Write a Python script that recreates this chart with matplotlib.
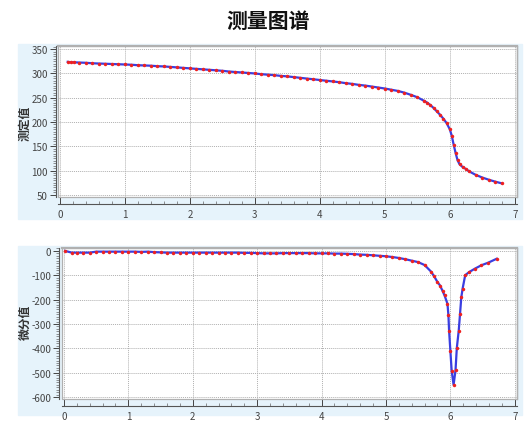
import matplotlib
matplotlib.use("Agg")
import matplotlib.pyplot as plt
from matplotlib.patches import Rectangle
from matplotlib.ticker import MultipleLocator

plt.rcParams["font.family"] = ["Noto Sans CJK SC", "DejaVu Sans"]
plt.rcParams["axes.unicode_minus"] = False

title = "测量图谱"
top_label = "测定值"
bottom_label = "微分值"

# measured curve
meas_x = [0.12, 0.17, 0.22, 0.3, 0.4, 0.5, 0.6, 0.7, 0.8, 0.9,
          1.0, 1.1, 1.2, 1.3, 1.4, 1.5, 1.6, 1.7, 1.8, 1.9,
          2.0, 2.1, 2.2, 2.3, 2.4, 2.5, 2.6, 2.7, 2.8, 2.9,
          3.0, 3.1, 3.2, 3.3, 3.4, 3.5, 3.6, 3.7, 3.8, 3.9,
          4.0, 4.1, 4.2, 4.3, 4.4, 4.5, 4.6, 4.7, 4.8, 4.9,
          5.0, 5.1, 5.2, 5.3, 5.4, 5.5, 5.6, 5.65, 5.7, 5.75,
          5.8, 5.85, 5.9, 5.95, 6.0, 6.03, 6.06, 6.09, 6.12, 6.15,
          6.2, 6.25, 6.3, 6.4, 6.5, 6.6, 6.7, 6.8]
meas_y = [324, 323, 323, 322.5, 322, 321, 320.5, 320, 319.5, 319,
          318.5, 318, 317, 316.5, 316, 315, 314.5, 313.5, 312.5, 311.5,
          310.5, 309.5, 308.5, 307.5, 306.5, 305.5, 304, 303, 302, 301,
          300, 298.5, 297.5, 296.5, 295, 294, 292.5, 291, 289.5, 288,
          286.5, 285, 283.5, 282, 280, 278.5, 276.5, 275, 273, 271,
          269, 266.5, 264, 260.5, 256, 251, 244, 240, 235, 229,
          222, 215, 207, 198, 185, 172, 153, 136, 121, 113,
          107, 103, 98, 91, 85.5, 81, 77, 73.5]

# derivative curve
diff_x = [0.02, 0.12, 0.2, 0.3, 0.4, 0.5, 0.6, 0.7, 0.8, 0.9,
          1.0, 1.1, 1.2, 1.3, 1.4, 1.5, 1.6, 1.7, 1.8, 1.9,
          2.0, 2.1, 2.2, 2.3, 2.4, 2.5, 2.6, 2.7, 2.8, 2.9,
          3.0, 3.1, 3.2, 3.3, 3.4, 3.5, 3.6, 3.7, 3.8, 3.9,
          4.0, 4.1, 4.2, 4.3, 4.4, 4.5, 4.6, 4.7, 4.8, 4.9,
          5.0, 5.1, 5.2, 5.3, 5.4, 5.5, 5.6, 5.7, 5.75, 5.8,
          5.84, 5.88, 5.91, 5.955, 5.97, 5.98, 6.0, 6.02, 6.05, 6.08,
          6.1, 6.13, 6.15, 6.17, 6.19, 6.23, 6.29, 6.38, 6.48, 6.59,
          6.72]
diff_y = [0, -7, -7, -7, -7, -3, -3, -3, -3, -3,
          -3, -3, -4, -3, -5, -6, -7, -7, -7, -7,
          -7, -7, -7, -7, -7, -7, -7, -7, -8, -8,
          -9, -10, -10, -10, -9, -9, -9, -9, -9, -10,
          -10, -10, -11, -11, -12, -13, -15, -16, -18, -20,
          -22, -25, -29, -34, -40, -46, -58, -85, -105, -128,
          -142, -165, -183, -217, -265, -327, -410, -492, -550, -490,
          -399, -327, -259, -190, -155, -100, -87, -73, -59, -48,
          -32]

fig = plt.figure(figsize=(5.3, 4.35), dpi=100)
W, H = 530.0, 435.0

panel_color = "#e6f3fb"
# light blue backdrops behind the two charts
fig.patches.append(Rectangle((18 / W, 1 - 220 / H), 504 / W, 175 / H,
                             transform=fig.transFigure, color=panel_color, zorder=-10))
fig.patches.append(Rectangle((18 / W, 1 - 416 / H), 504 / W, 169 / H,
                             transform=fig.transFigure, color=panel_color, zorder=-10))

fig.text(268 / W, 1 - 21 / H, title, fontsize=15, fontweight="bold",
         ha="center", va="center", color="#111111")

ax1 = fig.add_axes([58.3 / W, 1 - 197.7 / H, 458.4 / W, 150.4 / H])
ax2 = fig.add_axes([61.7 / W, 1 - 400 / H, 455 / W, 151 / H])


def style(ax, ylim, ymajor, yminor, xlim):
    ax.set_xlim(*xlim)
    ax.set_ylim(*ylim)
    ax.xaxis.set_major_locator(MultipleLocator(1))
    ax.xaxis.set_minor_locator(MultipleLocator(0.2))
    ax.yaxis.set_major_locator(MultipleLocator(ymajor))
    ax.yaxis.set_minor_locator(MultipleLocator(yminor))
    ax.grid(True, which="major", color="#b0b0b0", linestyle=(0, (1, 1)), linewidth=0.7)
    for side in ("top", "right"):
        ax.spines[side].set_color("#b0b0b0")
    ax.spines["top"].set_linewidth(1.6)
    ax.spines["right"].set_linewidth(1.0)
    ax.spines["left"].set_position(("outward", 2))
    ax.spines["bottom"].set_position(("outward", 5))
    ax.spines["left"].set_color("#555555")
    ax.spines["bottom"].set_color("#555555")
    ax.spines["left"].set_linewidth(0.8)
    ax.spines["bottom"].set_linewidth(0.8)
    ax.tick_params(axis="y", which="major", direction="out", length=4, width=0.7,
                   labelsize=7, colors="#444444", pad=1.5)
    ax.tick_params(axis="y", which="minor", direction="out", length=2, width=0.5,
                   colors="#666666")
    ax.tick_params(axis="x", which="major", direction="in", length=5, width=0.7,
                   labelsize=7, colors="#444444", pad=4)
    ax.tick_params(axis="x", which="minor", direction="in", length=2.5, width=0.5,
                   colors="#666666")
    ax.add_patch(Rectangle((0, 0), 1, 1, transform=ax.transAxes, fill=False,
                           edgecolor="#b0b0b0", linewidth=0.9, clip_on=False, zorder=5))
    ax.set_facecolor("white")


style(ax1, (46, 356), 50, 5, (-0.025, 7.03))
style(ax2, (-608, 12), 100, 10, (-0.035, 7.03))

ax1.plot(meas_x, meas_y, color="#3a3ee0", linewidth=1.6, zorder=3)
ax1.plot(meas_x, meas_y, "o", color="#ee2020", markersize=2.5, markeredgewidth=0, zorder=4)
ax2.plot(diff_x, diff_y, color="#3a3ee0", linewidth=1.6, zorder=3)
ax2.plot(diff_x, diff_y, "o", color="#ee2020", markersize=2.5, markeredgewidth=0, zorder=4)

fig.text(25 / W, 1 - 123 / H, top_label, rotation=90, fontsize=8.5, fontweight="bold",
         ha="center", va="center", color="#333333")
fig.text(25 / W, 1 - 322 / H, bottom_label, rotation=90, fontsize=8.5, fontweight="bold",
         ha="center", va="center", color="#333333")

fig.savefig("out.png", dpi=100)
